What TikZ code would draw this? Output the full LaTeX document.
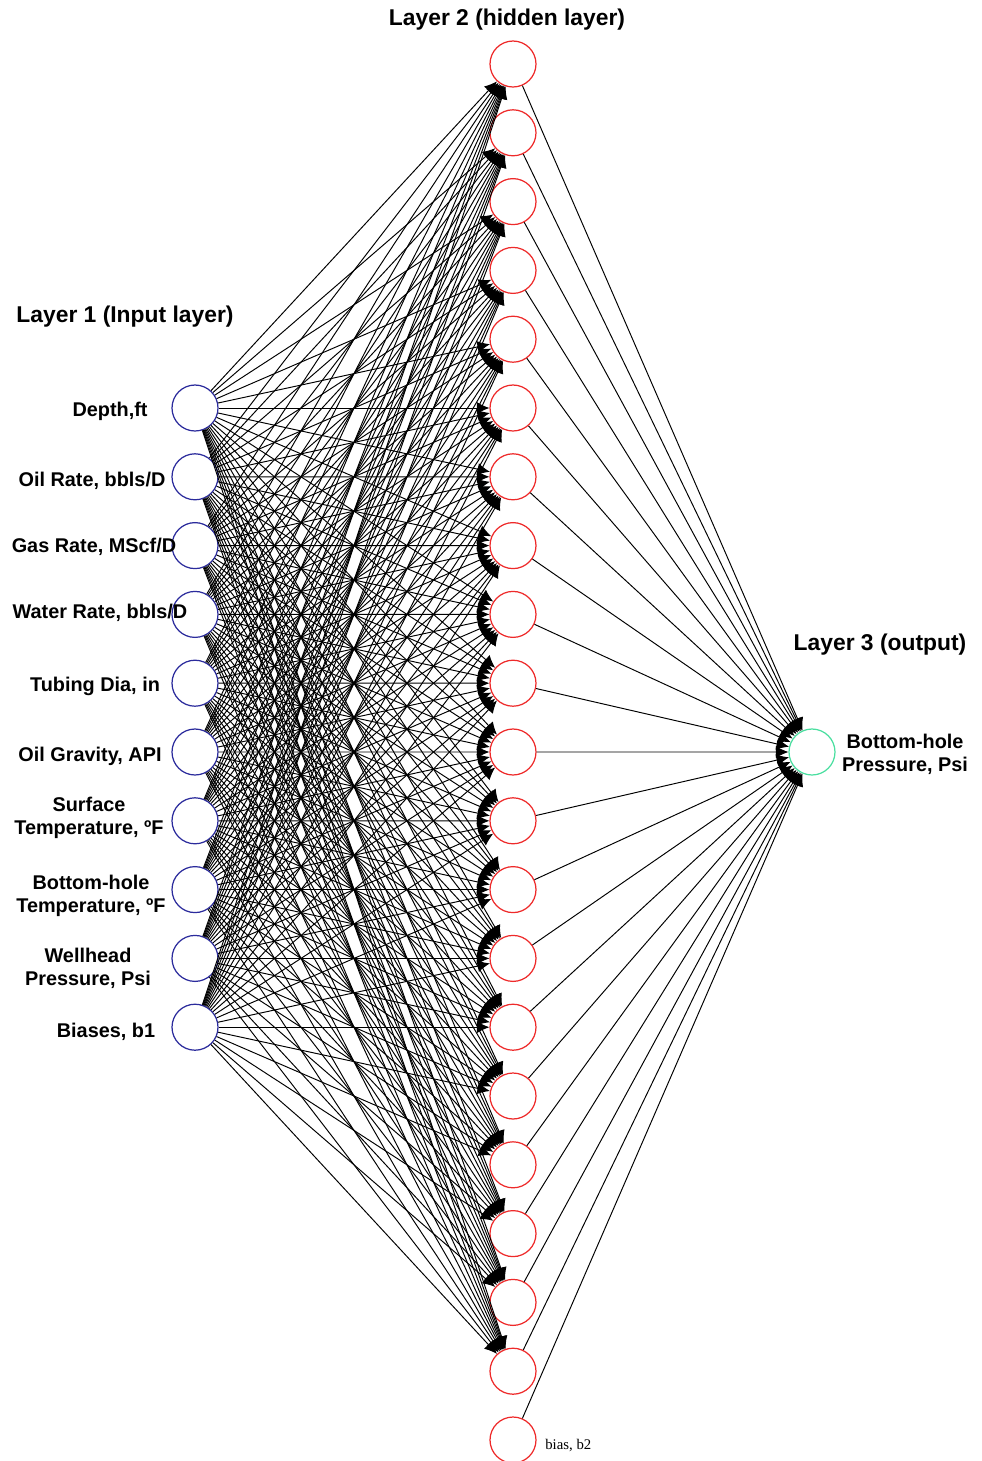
\documentclass[tikz,border=0pt]{standalone}
\usepackage{fontspec}
\setmainfont{Liberation Sans}
\newfontfamily\biasfont{Liberation Serif}
\usetikzlibrary{arrows.meta,positioning}
\definecolor{inblue}{HTML}{2B2B9C}
\definecolor{hidred}{HTML}{EE2A2A}
\definecolor{outgrn}{HTML}{4ADFA0}
\tikzset{
  neuron/.style={circle, draw, fill=white, line width=0.7pt, minimum size=0.92cm, inner sep=0pt},
  inneuron/.style={neuron, draw=inblue},
  hidneuron/.style={neuron, draw=hidred},
  outneuron/.style={neuron, draw=outgrn},
  wt/.style={-{Latex[length=2.5mm,width=2.4mm]}, line width=0.55pt, draw=black},
  lyr/.style={font=\fontsize{13}{15}\selectfont\bfseries, inner sep=0pt},
  inlbl/.style={font=\fontsize{11.3}{13}\selectfont\bfseries, align=center, inner sep=0pt},
}

\begin{document}
\begin{tikzpicture}[x=0.02cm, y=-0.02cm]
  \useasboundingbox (0,0) rectangle (982,1461);
  % neurons
  \foreach \i in {1,...,10} \node[inneuron] (in\i) at (195, {408+68.8*(\i-1)}) {};
  \foreach \j in {1,...,20} \node[hidneuron] (hid\j) at (513, {64+68.8*(\j-1)}) {};
  \node[hidneuron] (hid21) at (513, 1440) {};
  \node[outneuron] (out) at (812, 752) {};
  % weights
  \foreach \i in {1,...,10} \foreach \j in {1,...,20} \draw[wt] (in\i) -- (hid\j);
  \foreach \j in {1,...,21} \draw[wt] (hid\j) -- (out);
  % layer titles
  \node[lyr] (t2) at (507, 20) {Layer 2 (hidden layer)};
  \node[lyr] (t1) at (125, 317) {Layer 1 (Input layer)};
  \node[lyr] (t3) at (880, 645) {Layer 3 (output)};
  % input labels
  \node[inlbl] (l1) at (110, 411) {Depth,ft};
  \node[inlbl] (l2) at (92, 481) {Oil Rate, bbls/D};
  \node[inlbl] (l3) at (94, 547) {Gas Rate, MScf/D};
  \node[inlbl] (l4) at (100, 613) {Water Rate, bbls/D};
  \node[inlbl] (l5) at (95, 686) {Tubing Dia, in};
  \node[inlbl] (l6) at (90, 756) {Oil Gravity, API};
  \node[inlbl] (l7) at (89, 818) {Surface\\Temperature, ºF};
  \node[inlbl] (l8) at (91, 896) {Bottom-hole\\Temperature, ºF};
  \node[inlbl] (l9) at (88, 968) {Wellhead\\Pressure, Psi};
  \node[inlbl] (l10) at (106, 1032) {Biases, b1};
  \node[inlbl] (lout) at (905, 754) {Bottom-hole\\Pressure, Psi};
  \node[font=\biasfont\fontsize{8.4}{10}\selectfont, anchor=west, inner sep=0pt] (lb2) at (545, 1445) {bias, b2};
\end{tikzpicture}
\end{document}
